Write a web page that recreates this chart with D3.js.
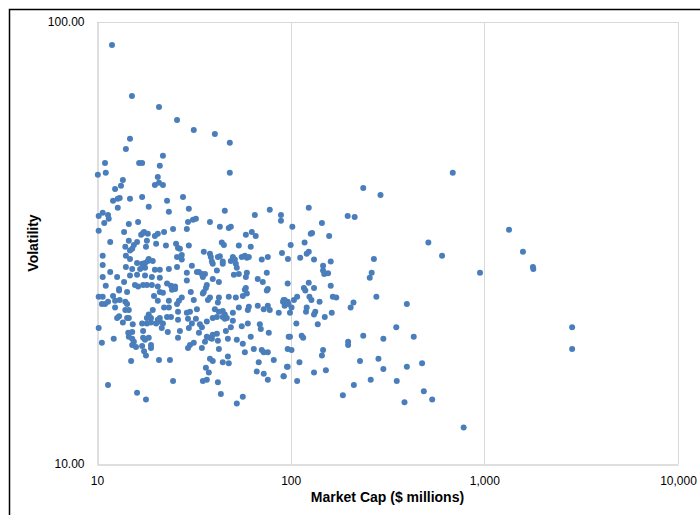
<!DOCTYPE html>
<html>
<head>
<meta charset="utf-8">
<script src="https://cdn.jsdelivr.net/npm/d3@7/dist/d3.min.js"></script>
<style>
  html, body { margin: 0; padding: 0; background: #fff; }
  svg { display: block; }
  text { font-family: "Liberation Sans", Arial, sans-serif; }
</style>
</head>
<body>
<svg id="chart" width="700" height="515"></svg>
<script>
// Market capitalisation ($ millions) of each company
const marketCap = [
  11.95,15.15,20.9,25.9,31.6,40.6,48.5,14.8,14.1,21.9,11.0,16.5,17.1,21.1,10.1,11.1,20.6,48.5,13.6,
  19.9,20.9,21.9,13.3,12.4,17.1,14.8,13.1,12.8,12.1,23.0,27.8,18.5,12.8,23.5,10.7,10.2,11.4,11.5,10.9,
  14.6,16.3,29.5,29.1,10.2,13.8,24.7,17.3,17.5,18.3,16.9,19.9,20.6,22.2,11.7,14.6,16.1,18.1,20.2,22.7,
  25.6,14.0,15.5,15.2,17.9,26.2,26.8,29.8,14.8,10.7,14.1,14.8,25.9,27.4,27.4,10.7,16.1,17.1,17.7,18.5,
  19.4,18.3,17.5,14.1,15.2,16.7,17.7,19.9,21.1,23.5,25.9,11.7,10.7,12.7,14.8,16.1,17.7,19.2,21.1,29.1,
  29.1,11.1,13.8,15.7,16.3,17.3,18.1,19.2,20.6,23.0,24.1,25.3,13.0,29.8,
  10.2,10.7,10.6,11.0,11.4,12.1,13.0,12.4,13.1,14.3,14.0,14.3,12.4,14.0,14.6,13.0,12.7,14.3,14.6,13.6,
  15.3,10.2,17.1,18.5,18.1,19.0,19.4,20.6,22.2,23.5,23.5,25.9,26.5,27.4,26.2,26.2,29.1,29.5,23.0,24.1,
  21.1,20.6,20.2,21.1,21.9,21.6,19.0,18.1,19.7,21.1,21.9,24.4,25.3,14.5,15.2,14.6,15.2,15.5,15.2,15.9,
  17.3,17.7,18.5,17.3,19.0,19.0,17.1,23.2,26.8,26.2,29.8,12.2,10.6,17.5,17.9,15.0,20.9,23.8,29.5,11.4,
  24.7,16.1,17.9,
  45.7,65.3,78.0,89.1,89.1,31.3,32.4,38.3,43.1,47.9,49.1,58.7,63.0,66.0,44.1,45.2,54.0,62.2,35.6,38.3,
  38.7,42.1,43.1,39.2,39.6,44.6,44.6,49.1,50.3,51.5,52.1,52.7,55.9,58.0,59.4,60.8,70.9,76.2,90.2,96.8,
  30.9,32.8,33.6,34.8,36.1,35.2,41.6,50.9,54.0,59.4,58.7,75.3,39.6,42.6,67.6,71.8,36.9,58.7,76.2,
  30.5,31.6,35.6,36.5,35.2,37.4,38.3,42.6,42.1,40.6,47.9,52.1,56.6,58.0,59.4,75.3,92.0,96.5,93.1,32.8,
  30.2,32.4,30.9,34.0,34.8,36.9,39.6,41.6,42.6,44.6,45.7,44.6,46.8,45.7,50.3,50.3,49.1,46.3,54.0,60.1,
  60.8,67.6,72.6,76.2,78.0,86.8,55.9,60.1,69.3,70.1,77.1,62.2,33.6,36.9,38.3,39.6,41.6,39.2,42.1,36.1,
  31.6,30.2,34.8,42.6,47.4,52.7,56.6,58.0,64.5,70.9,72.6,76.2,81.8,97.7,96.5,38.3,39.6,44.6,47.4,47.9,
  36.5,37.8,68.4,66.8,72.6,76.2,92.0,95.7,35.2,36.9,42.1,43.6,56.6,52.7,
  687,237,291,124,197,214,145,102,127,129,158,118,100,514,124,121,112,132,161,269,
  605,147,147,149,156,262,256,950,
  96.5,124,117,119,132,161,91.3,93.1,97.3,104,108,101,99.2,125,128,141,165,172,121,120,
  134,132,150,163,211,204,277,398,107,138,351,99.2,114,116,198,198,237,301,432,101,
  147,145,111,228,284,96.5,301,398,477,92.0,108,132,152,259,353,212,186,487,387,538,782,
  1341,1583,1782,1790,2840,2840
];

// Volatility of each company, in the same order
const volatility = [
  88.7,68.0,64.2,60.0,57.0,55.8,53.3,54.4,51.6,49.8,48.0,48.0,48.0,47.3,45.1,45.6,44.6,45.6,43.9,
  42.8,43.3,42.8,42.6,41.9,40.2,39.8,40.0,39.8,39.4,39.4,40.2,38.2,38.0,37.2,37.0,36.4,36.6,35.9,35.1,
  34.9,35.3,35.3,34.0,33.7,33.5,34.0,33.3,33.5,33.2,33.0,32.8,33.2,33.5,31.8,32.0,31.8,32.0,31.5,31.2,
  31.5,31.0,31.3,30.7,31.0,30.8,30.7,31.2,30.4,29.6,29.6,29.1,29.4,29.7,29.0,28.2,28.5,28.4,28.5,29.1,
  28.8,28.8,28.1,27.9,27.6,27.6,27.8,27.5,27.5,27.6,27.9,27.2,26.5,26.5,26.7,26.8,26.7,26.5,26.4,27.1,
  26.0,25.3,25.8,25.4,25.2,25.4,25.4,25.4,25.2,25.6,25.3,25.2,24.9,37.8,
  23.9,23.9,23.0,23.0,23.3,24.0,24.7,23.4,23.5,24.5,23.3,23.0,22.6,22.3,22.3,21.6,21.4,21.4,21.4,20.9,
  20.7,20.3,20.8,21.8,21.4,21.4,22.3,23.4,22.6,22.6,23.4,23.0,23.4,23.8,22.1,21.2,22.0,21.3,21.5,21.5,
  21.4,21.2,20.8,21.0,20.8,20.3,20.9,20.8,24.0,24.5,24.4,24.8,24.9,19.8,19.9,19.4,19.2,18.9,18.6,18.4,
  19.3,19.1,19.3,20.0,18.6,18.3,18.5,19.9,20.0,19.3,20.3,19.2,18.8,18.0,17.6,17.1,17.2,17.2,18.3,15.1,
  15.4,14.5,14.0,
  37.4,36.6,37.6,36.6,35.5,35.7,35.9,35.3,34.4,34.2,34.4,33.0,33.5,32.8,31.7,31.3,31.2,31.0,30.2,29.9,
  29.4,29.4,29.5,28.7,28.4,28.7,28.4,28.8,29.4,29.0,28.4,27.8,29.4,29.6,29.3,29.4,29.0,29.4,30.0,29.1,
  28.1,27.2,27.2,26.9,26.9,26.5,27.4,26.8,26.9,27.1,26.5,27.1,26.2,25.8,26.2,25.8,25.4,25.0,24.9,
  24.5,23.5,24.5,25.0,24.3,23.5,23.8,23.8,23.2,22.4,23.9,23.8,24.0,24.8,24.3,24.7,23.5,23.3,22.8,22.4,
  22.1,21.3,20.8,20.7,20.4,21.0,21.4,21.5,22.1,22.2,21.8,21.5,21.4,21.3,22.0,21.1,20.4,20.0,22.6,22.3,
  22.7,22.8,22.4,22.8,22.3,22.0,20.5,20.8,20.7,20.2,19.8,19.4,19.8,19.4,19.3,19.6,19.7,19.2,19.0,18.9,
  18.8,18.6,18.3,18.2,19.2,19.1,18.7,17.9,18.2,18.1,17.9,17.9,17.2,19.4,18.2,17.3,17.1,17.0,17.5,16.9,
  16.5,16.1,17.0,16.2,16.0,15.5,15.8,16.6,15.4,15.5,15.3,14.4,14.2,13.7,
  45.6,42.1,40.6,38.0,36.4,36.2,35.1,34.4,33.2,33.3,32.8,31.7,31.3,31.7,30.2,29.9,29.3,29.0,28.7,29.1,
  29.6,28.1,27.4,26.9,27.0,27.1,26.4,27.1,
  25.6,25.7,25.0,24.7,25.0,25.3,23.3,23.5,23.0,23.5,23.9,22.6,22.0,23.9,23.5,23.3,23.9,23.8,22.6,22.1,
  22.1,21.8,21.5,22.0,23.2,22.6,23.9,23.0,20.8,20.7,20.4,19.4,19.5,19.3,18.9,18.6,19.5,19.2,19.4,18.1,
  18.1,17.6,17.0,17.1,17.3,16.6,16.4,16.6,16.9,15.8,15.4,16.1,16.3,15.5,15.4,15.1,14.3,14.6,13.8,14.0,12.1,
  33.9,30.2,27.9,27.6,20.4,18.2
];

// Axis tick values
const xTicks = [10, 100, 1000, 10000];
const yTicks = [10, 100];

const xTitle = "Market Cap ($ millions)";
const yTitle = "Volatility";

const svg = d3.select("#chart");
const plot = { left: 97, right: 678, top: 22, bottom: 464 };

const x = d3.scaleLog().domain([10, 10000]).range([plot.left, plot.right]);
const y = d3.scaleLog().domain([10, 100]).range([plot.bottom, plot.top]);

// chart area border (top and left edges visible)
svg.append("rect")
  .attr("x", 9.5).attr("y", 9.5)
  .attr("width", 720).attr("height", 540)
  .attr("fill", "none")
  .attr("stroke", "#000")
  .attr("stroke-width", 1.5);

// vertical gridlines
svg.append("g")
  .selectAll("line")
  .data(xTicks.slice(1))
  .join("line")
  .attr("x1", d => Math.round(x(d)) + 0.5)
  .attr("x2", d => Math.round(x(d)) + 0.5)
  .attr("y1", plot.top)
  .attr("y2", plot.bottom)
  .attr("stroke", "#d9d9d9")
  .attr("stroke-width", 1);

// horizontal gridlines
svg.append("g")
  .selectAll("line")
  .data(yTicks.slice(1))
  .join("line")
  .attr("x1", plot.left)
  .attr("x2", plot.right)
  .attr("y1", d => Math.round(y(d)) + 0.5)
  .attr("y2", d => Math.round(y(d)) + 0.5)
  .attr("stroke", "#d9d9d9")
  .attr("stroke-width", 1);

// x axis
const xAxis = svg.append("g")
  .attr("transform", `translate(0,${plot.bottom + 0.5})`)
  .call(d3.axisBottom(x).tickValues(xTicks).tickFormat(d3.format(",")).tickSize(0).tickPadding(12));
xAxis.select(".domain").attr("stroke", "#bfbfbf");
xAxis.selectAll("text")
  .attr("font-size", "12px")
  .attr("fill", "#000")
  .attr("font-family", "'Liberation Sans', Arial, sans-serif");

// y axis
const yAxis = svg.append("g")
  .attr("transform", `translate(${plot.left + 0.5},0)`)
  .call(d3.axisLeft(y).tickValues(yTicks).tickFormat(d3.format(".2f")).tickSize(0).tickPadding(13));
yAxis.select(".domain").attr("stroke", "#bfbfbf");
yAxis.selectAll("text")
  .attr("font-size", "12px")
  .attr("fill", "#000")
  .attr("font-family", "'Liberation Sans', Arial, sans-serif");

// axis titles
svg.append("text")
  .attr("x", (plot.left + plot.right) / 2)
  .attr("y", 502)
  .attr("text-anchor", "middle")
  .attr("font-size", "14px")
  .attr("font-weight", "bold")
  .attr("fill", "#000")
  .text(xTitle);

svg.append("text")
  .attr("transform", `translate(38,${(plot.top + plot.bottom) / 2}) rotate(-90)`)
  .attr("text-anchor", "middle")
  .attr("font-size", "14px")
  .attr("font-weight", "bold")
  .attr("fill", "#000")
  .text(yTitle);

// scatter points
const points = marketCap.map((m, i) => ({ m, v: volatility[i] }));
svg.append("g")
  .selectAll("circle")
  .data(points)
  .join("circle")
  .attr("cx", d => x(d.m))
  .attr("cy", d => y(d.v))
  .attr("r", 3)
  .attr("fill", "#4a7ebb");
</script>
</body>
</html>
